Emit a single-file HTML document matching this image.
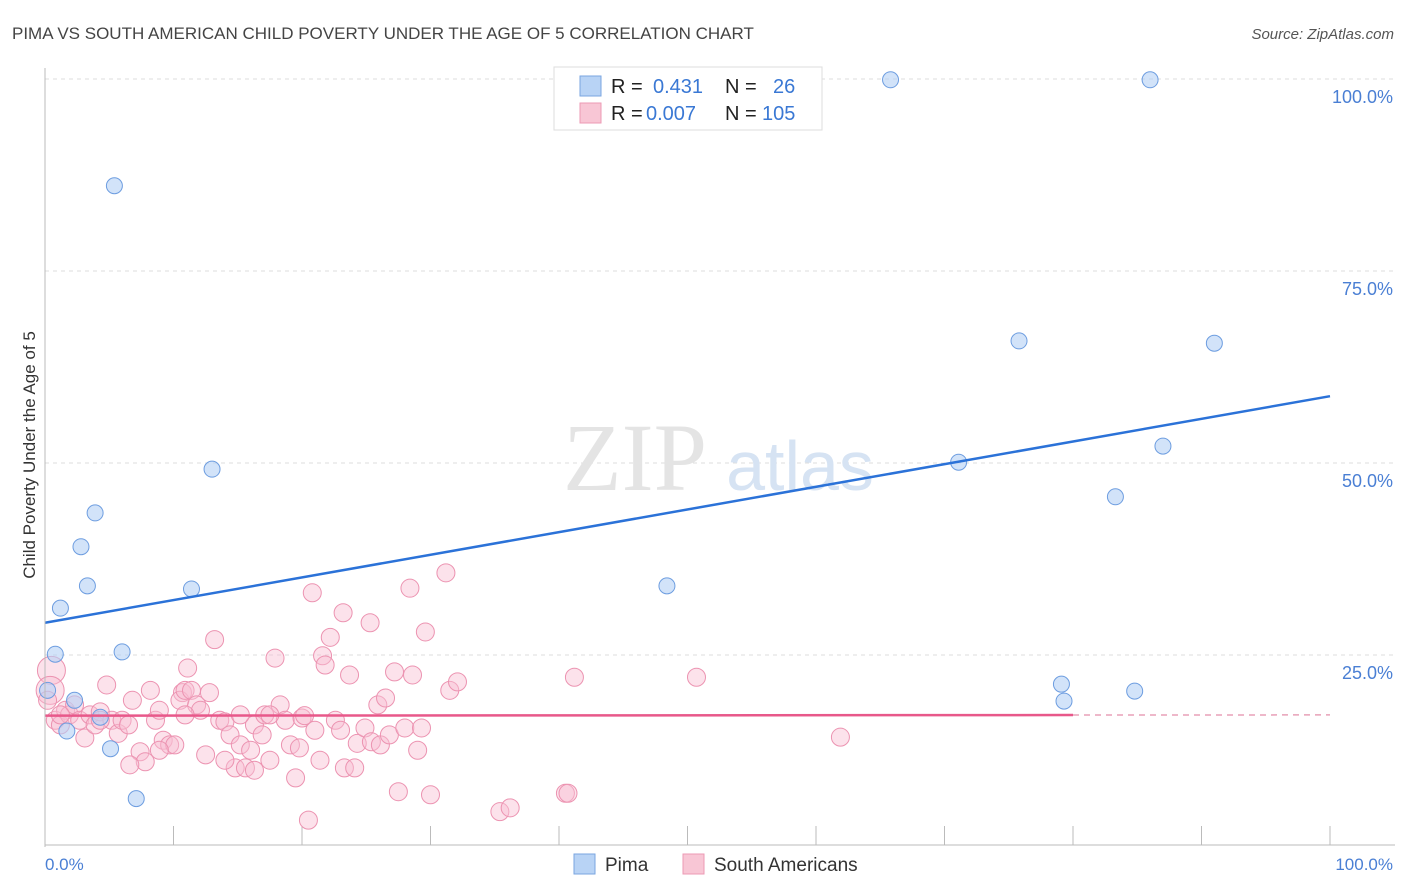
<!DOCTYPE html>
<html><head><meta charset="utf-8"><style>
body{margin:0;background:#fff;font-family:"Liberation Sans",sans-serif}
svg{display:block}
</style></head><body>
<svg id="c" width="1406" height="892">
<text x="12" y="39" font-size="17" fill="#444">PIMA VS SOUTH AMERICAN CHILD POVERTY UNDER THE AGE OF 5 CORRELATION CHART</text>
<text x="1394" y="39" font-size="15" fill="#555" font-style="italic" text-anchor="end">Source: ZipAtlas.com</text>
<g id="grid"></g>
<text x="635" y="490" font-size="96" fill="#e4e4e4" font-family="Liberation Serif" text-anchor="middle">ZIP</text>
<text x="800" y="490" font-size="70" fill="#d6e3f3" text-anchor="middle">atlas</text>
<g id="pts"></g>
<g id="lines"></g>
<line x1="45" y1="68" x2="45" y2="847" stroke="#bbb"/>
<line x1="45" y1="845" x2="1395" y2="845" stroke="#bbb"/>
<text x="35" y="455" font-size="17" fill="#333" text-anchor="middle" transform="rotate(-90 35 455)">Child Poverty Under the Age of 5</text>
<text x="45" y="870" font-size="17" fill="#4a7fd4">0.0%</text>
<text x="1393" y="870" font-size="17" fill="#4a7fd4" text-anchor="end">100.0%</text>
<g>
<rect x="554" y="67" width="268" height="63" fill="#fff" stroke="#ddd"/>
<rect x="580" y="76" width="21" height="20" fill="#b8d3f5" stroke="#7aa6e0"/>
<rect x="580" y="103" width="21" height="20" fill="#f8c6d5" stroke="#ec9ab4"/>
<text x="611" y="93" font-size="20" fill="#222">R =</text><text x="653" y="93" font-size="20" fill="#3a78d4">0.431</text>
<text x="725" y="93" font-size="20" fill="#222">N =</text><text x="773" y="93" font-size="20" fill="#3a78d4">26</text>
<text x="611" y="120" font-size="20" fill="#222">R =</text><text x="646" y="120" font-size="20" fill="#3a78d4">0.007</text>
<text x="725" y="120" font-size="20" fill="#222">N =</text><text x="762" y="120" font-size="20" fill="#3a78d4">105</text>
</g>
<g>
<rect x="574" y="854" width="21" height="20" fill="#b8d3f5" stroke="#7aa6e0"/>
<text x="605" y="871" font-size="19" fill="#333">Pima</text>
<rect x="683" y="854" width="21" height="20" fill="#f8c6d5" stroke="#ec9ab4"/>
<text x="714" y="871" font-size="19" fill="#333">South Americans</text>
</g>
</svg>
<script>
const yTicks=[25,50,75,100];
const yTickLabels=["25.0%","50.0%","75.0%","100.0%"];
const xTicks=[0,10,20,30,40,50,60,70,80,90,100];
const pimaX=[5.4,65.8,86.0,75.8,91.0,13.0,71.1,87.0,83.3,3.9,2.8,3.3,1.2,11.4,48.4,0.8,6.0,0.2,2.3,4.3,1.7,5.1,7.1,79.1,79.3,84.8];
const pimaY=[86.1,99.9,99.9,65.9,65.6,49.2,50.1,52.2,45.6,43.5,39.1,34.0,31.1,33.6,34.0,25.1,25.4,20.4,19.1,16.9,15.1,12.8,6.3,21.2,19.0,20.3];
const saX=[0.5,0.4,0.8,1.2,1.6,1.9,2.3,2.7,3.1,3.5,3.9,4.3,4.8,5.2,5.7,6.0,6.5,6.8,7.4,7.8,8.2,8.6,8.9,9.2,9.7,10.1,10.7,11.1,10.5,10.9,11.4,11.8,12.1,12.5,12.8,13.2,13.6,14.0,14.4,14.8,15.2,15.6,16.0,16.3,16.9,17.1,17.5,17.9,18.3,18.7,19.1,19.5,19.8,20.0,20.5,20.8,21.0,21.4,21.6,21.8,22.2,22.6,23.0,23.3,23.7,24.1,23.2,24.3,24.9,25.3,25.4,25.9,26.1,26.5,26.8,27.2,27.5,28.0,28.4,28.6,29.0,29.3,29.6,30.0,31.2,31.5,32.1,35.4,36.2,40.5,40.7,41.2,50.7,61.9,20.2,16.3,6.6,8.9,15.2,10.9,1.2,0.2,4.3,14.0,17.5];
const saY=[23.0,20.4,16.5,15.9,17.8,17.2,18.5,16.5,14.2,17.2,15.9,17.6,21.1,16.5,14.8,16.5,15.9,19.1,12.4,11.1,20.4,16.5,17.8,13.9,13.3,13.3,20.1,23.3,19.1,20.4,20.4,18.5,17.8,12.0,20.1,27.0,16.5,16.3,14.6,10.3,13.3,10.3,12.6,15.9,14.6,17.2,11.3,24.6,18.5,16.5,13.3,9.0,12.9,16.8,3.5,33.1,15.2,11.3,24.9,23.7,27.3,16.5,15.2,10.3,22.4,10.3,30.5,13.5,15.5,29.2,13.7,18.5,13.3,19.4,14.6,22.8,7.2,15.5,33.7,22.4,12.6,15.5,28.0,6.8,35.7,20.4,21.5,4.6,5.1,7.0,7.0,22.1,22.1,14.3,17.1,10.0,10.7,12.6,17.2,17.2,17.2,19.1,16.5,11.3,17.2];
const pimaLine=[29.2,58.7];
const saLine=[17.1,17.2];
const X=v=>45+v*12.85, Y=v=>847-v*7.68;
const NS="http://www.w3.org/2000/svg";
function mk(t,a,p){const e=document.createElementNS(NS,t);for(const k in a)e.setAttribute(k,a[k]);p.appendChild(e);return e;}
const grid=document.getElementById('grid');
yTicks.forEach((t,i)=>{
 const l=mk('line',{x1:45,x2:1395,y1:Y(t),y2:Y(t),stroke:'#ddd','stroke-dasharray':'4,4'},grid);
 
 
 const tx=mk('text',{x:1393,y:Y(t)+24,'font-size':18,fill:'#4a7fd4','text-anchor':'end'},grid);
 tx.textContent=yTickLabels[i];
 
 
});
xTicks.forEach(t=>{
 const l=mk('line',{x1:X(t),x2:X(t),y1:826,y2:845,stroke:'#bbb'},grid);
 
 
});
const pts=document.getElementById('pts');
saX.forEach((x,i)=>{
 const r=(i<2)?14:9;
 const c=mk('circle',{cx:X(x),cy:Y(saY[i]),r:r,fill:'rgba(248,190,210,0.45)',stroke:'#ec93b1','stroke-width':1},pts);
 
 
});
pimaX.forEach((x,i)=>{
 const c=mk('circle',{cx:X(x),cy:Y(pimaY[i]),r:8,fill:'rgba(180,208,245,0.6)',stroke:'#6d9de0','stroke-width':1},pts);
 
 
});
const lines=document.getElementById('lines');
const bl=mk('line',{x1:X(0),y1:Y(pimaLine[0]),x2:X(100),y2:Y(pimaLine[1]),stroke:'#2b72d8','stroke-width':2.5},lines);


const sy=x=>saLine[0]+(saLine[1]-saLine[0])*x/100;
const pl=mk('line',{x1:X(0),y1:Y(sy(0)),x2:X(80),y2:Y(sy(80)),stroke:'#e8588a','stroke-width':2.5},lines);


const pd=mk('line',{x1:X(80),y1:Y(sy(80)),x2:X(100),y2:Y(sy(100)),stroke:'#e8a0b8','stroke-width':1.5,'stroke-dasharray':'6,5'},lines);


</script>
</body></html>
